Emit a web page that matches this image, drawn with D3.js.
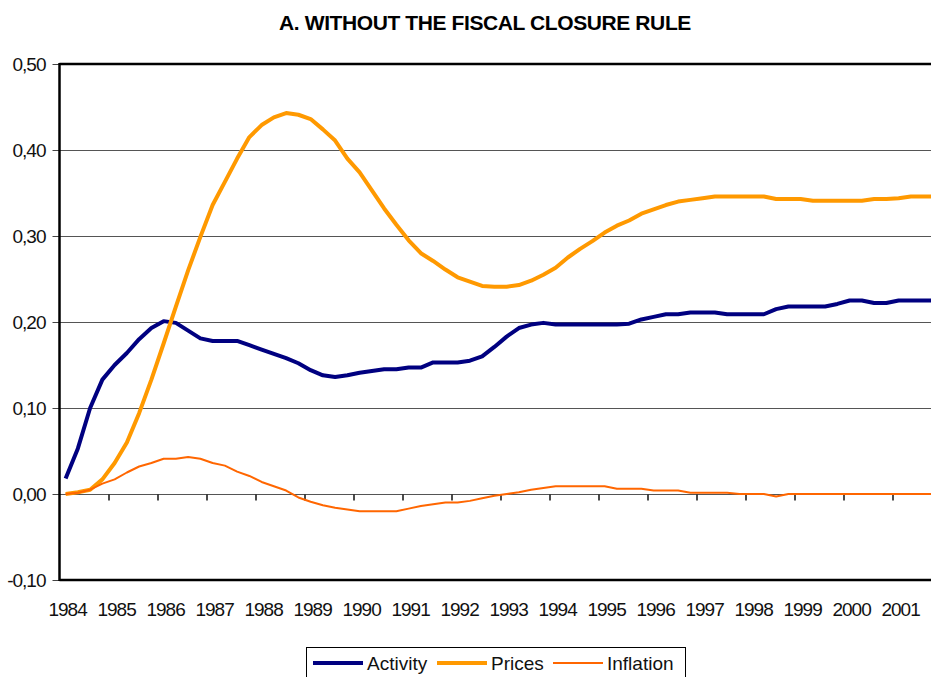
<!DOCTYPE html>
<html>
<head>
<meta charset="utf-8">
<script src="https://cdn.jsdelivr.net/npm/d3@7"></script>
<style>
  body { margin: 0; background: #fff; }
  svg { display: block; }
  .num { font-family: "Liberation Sans Narrow", "Liberation Sans", Arial, sans-serif; font-size: 19px; fill: #111; }
</style>
</head>
<body>
<div id="chart"></div>
<script>
// quarterly data, 1984Q1 .. 2001Q4
const years = ['1984', '1985', '1986', '1987', '1988', '1989', '1990', '1991', '1992',
    '1993', '1994', '1995', '1996', '1997', '1998', '1999', '2000', '2001'];
const yTicks = [-0.1, 0, 0.1, 0.2, 0.3, 0.4, 0.5];

const activity = [
    0.018, 0.053, 0.100, 0.133, 0.150, 0.164, 0.180, 0.193, 0.201, 0.199,
    0.190, 0.181, 0.178, 0.178, 0.178, 0.173, 0.168, 0.163, 0.158, 0.152,
    0.144, 0.138, 0.136, 0.138, 0.141, 0.143, 0.145, 0.145, 0.147, 0.147,
    0.153, 0.153, 0.153, 0.155, 0.160, 0.171, 0.183, 0.193, 0.197, 0.199,
    0.197, 0.197, 0.197, 0.197, 0.197, 0.197, 0.198, 0.203, 0.206, 0.209,
    0.209, 0.211, 0.211, 0.211, 0.209, 0.209, 0.209, 0.209, 0.215, 0.218,
    0.218, 0.218, 0.218, 0.221, 0.225, 0.225, 0.222, 0.222, 0.225, 0.225,
    0.225, 0.225
];
const prices = [
    0.000, 0.002, 0.005, 0.017, 0.036, 0.060, 0.094, 0.133, 0.175, 0.218,
    0.260, 0.299, 0.336, 0.363, 0.390, 0.415, 0.429, 0.438, 0.443, 0.441,
    0.436, 0.424, 0.411, 0.390, 0.374, 0.353, 0.332, 0.313, 0.295, 0.280,
    0.271, 0.261, 0.252, 0.247, 0.242, 0.241, 0.241, 0.243, 0.248, 0.255,
    0.263, 0.275, 0.285, 0.294, 0.304, 0.312, 0.318, 0.326, 0.331, 0.336,
    0.340, 0.342, 0.344, 0.346, 0.346, 0.346, 0.346, 0.346, 0.343, 0.343,
    0.343, 0.341, 0.341, 0.341, 0.341, 0.341, 0.343, 0.343, 0.344, 0.346,
    0.346, 0.346
];
const inflation = [
    0.000, 0.0015, 0.005, 0.012, 0.017, 0.025, 0.032, 0.036, 0.041, 0.041,
    0.043, 0.041, 0.036, 0.033, 0.026, 0.021, 0.014, 0.009, 0.004, -0.004,
    -0.009, -0.013, -0.016, -0.018, -0.020, -0.020, -0.020, -0.020, -0.017, -0.014,
    -0.012, -0.010, -0.010, -0.008, -0.005, -0.002, 0.000, 0.002, 0.005, 0.007,
    0.009, 0.009, 0.009, 0.009, 0.009, 0.006, 0.006, 0.006, 0.004, 0.004,
    0.004, 0.0015, 0.0015, 0.0015, 0.0015, 0.000, 0.000, 0.000, -0.003, 0.000,
    0.000, 0.000, 0.000, 0.000, 0.000, 0.000, 0.000, 0.000, 0.000, 0.000,
    0.000, 0.000
];

const series = [
    { name: 'Activity', values: activity, color: '#000080', width: 4 },
    { name: 'Prices', values: prices, color: '#FF9900', width: 4 },
    { name: 'Inflation', values: inflation, color: '#FF6600', width: 2 }
];

const totalWidth = 931;
const totalHeight = 677;
const margin = { top: 64, left: 59.5, bottom: 97 };
const catWidth = 12.25;

const svg = d3.select('#chart').append('svg')
    .attr('width', totalWidth)
    .attr('height', totalHeight);

const xScale = d3.scaleLinear()
    .domain([0, activity.length])
    .range([margin.left, margin.left + activity.length * catWidth]);

const yScale = d3.scaleLinear()
    .domain([-0.1, 0.5])
    .range([totalHeight - margin.bottom, margin.top]);

const fmt = v => d3.format('.2f')(v).replace('.', ',').replace('−', '-');

// title
svg.append('text')
    .attr('x', 485)
    .attr('y', 30)
    .attr('text-anchor', 'middle')
    .style('font-family', '"Liberation Sans", Arial, sans-serif')
    .style('font-weight', 'bold')
    .style('font-size', '21px')
    .style('letter-spacing', '-0.4px')
    .text('A. WITHOUT THE FISCAL CLOSURE RULE');

// gridlines
svg.append('g')
    .selectAll('line')
    .data(yTicks.filter(t => t > -0.1 && t < 0.5))
    .join('line')
    .attr('x1', margin.left)
    .attr('x2', totalWidth)
    .attr('y1', d => Math.round(yScale(d)) + 0.5)
    .attr('y2', d => Math.round(yScale(d)) + 0.5)
    .attr('stroke', '#555')
    .attr('stroke-width', 1.2);

// y axis
const axisLeft = svg.append('g')
    .attr('transform', `translate(${margin.left},0)`)
    .call(d3.axisLeft(yScale).tickValues(yTicks).tickSize(7).tickFormat(fmt));
axisLeft.select('.domain').remove();
axisLeft.selectAll('line').attr('stroke', '#444');
axisLeft.selectAll('text')
    .attr('class', 'num')
    .attr('x', -14)
    .style('letter-spacing', '-1px')
    .attr('font-family', null)
    .attr('font-size', null)
    .attr('fill', null);

// x axis ticks on the zero line
const axisBottom = svg.append('g')
    .attr('transform', `translate(0,${Math.round(yScale(0)) + 0.5})`)
    .call(d3.axisBottom(xScale).tickValues(d3.range(4, activity.length, 4)).tickSize(6).tickFormat(''));
axisBottom.select('.domain').remove();
axisBottom.selectAll('line').attr('stroke', '#111').attr('stroke-width', 1.5);

svg.append('g')
    .selectAll('text')
    .data(years)
    .join('text')
    .attr('class', 'num')
    .attr('x', (_, i) => xScale(i * 4 + 0.5) + 2)
    .attr('y', 616)
    .attr('text-anchor', 'middle')
    .style('letter-spacing', '-1px')
    .text(d => d);

// plot frame: left, top, bottom
svg.append('line')
    .attr('x1', margin.left).attr('x2', margin.left)
    .attr('y1', yScale(0.5) - 1).attr('y2', yScale(-0.1) + 1)
    .attr('stroke', '#000').attr('stroke-width', 2.5);
[0.5, -0.1].forEach(v => {
    svg.append('line')
        .attr('x1', margin.left).attr('x2', totalWidth)
        .attr('y1', yScale(v)).attr('y2', yScale(v))
        .attr('stroke', '#000').attr('stroke-width', 2.5);
});

// lines
const line = d3.line()
    .x((_, i) => xScale(i + 0.5))
    .y(d => yScale(d));

svg.append('g')
    .selectAll('path')
    .data(series)
    .join('path')
    .attr('fill', 'none')
    .attr('stroke', d => d.color)
    .attr('stroke-width', d => d.width)
    .attr('stroke-linejoin', 'round')
    .attr('d', d => line(d.values));

// legend
const legend = svg.append('g');
legend.append('rect')
    .attr('x', 306.5).attr('y', 647.5)
    .attr('width', 379).attr('height', 40)
    .attr('fill', '#fff').attr('stroke', '#000').attr('stroke-width', 1);

const legendX = [313, 437, 553];
const items = legend.selectAll('g.item')
    .data(series)
    .join('g')
    .attr('class', 'item')
    .attr('transform', (_, i) => `translate(${legendX[i]},663)`);
items.append('line')
    .attr('x1', 0).attr('x2', 50)
    .attr('stroke', d => d.color)
    .attr('stroke-width', d => d.width);
items.append('text')
    .attr('class', 'num')
    .attr('x', 54)
    .attr('y', 7)
    .style('font-size', '19px')
    .text(d => d.name);
</script>
</body>
</html>
